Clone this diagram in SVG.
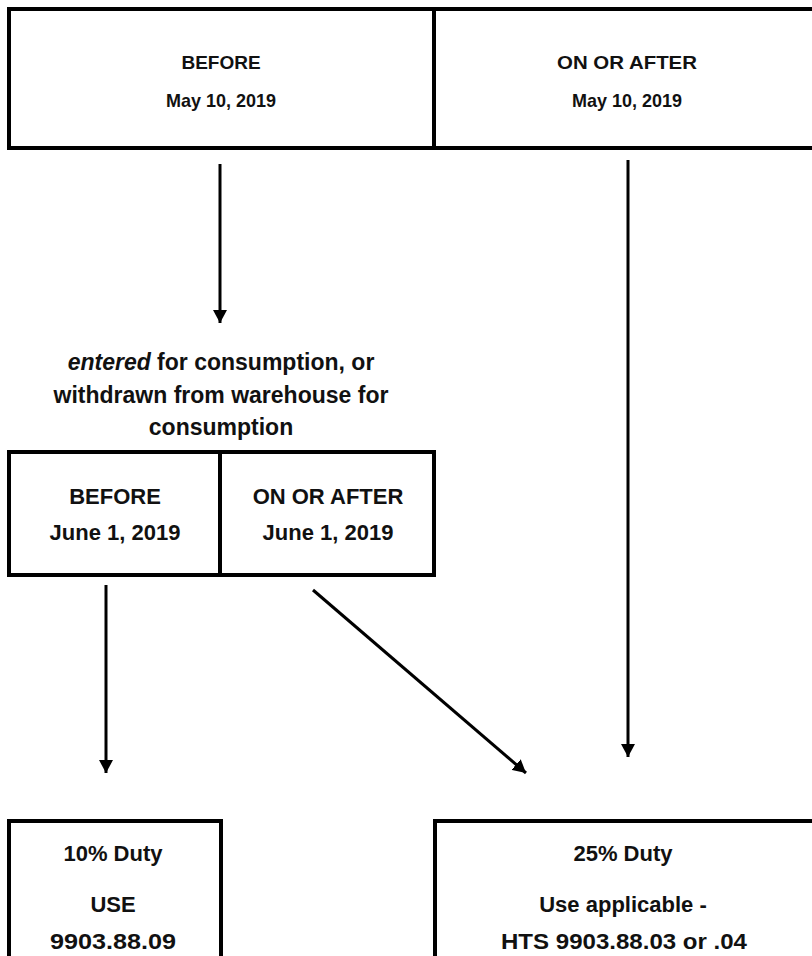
<svg xmlns="http://www.w3.org/2000/svg" width="812" height="956" viewBox="0 0 812 956">
<defs>
<style>
.box{fill:#fff;stroke:#000;stroke-width:4}
.t{font-family:"Liberation Sans",Arial,sans-serif;font-weight:bold;text-anchor:middle;fill:#111}
.s1{font-size:19px}
.s2{font-size:22px}
.s3{font-size:23px}
.s4{font-size:22px}
.c{stroke:#000;stroke-width:3;fill:none}
</style>
<marker id="ah" markerUnits="userSpaceOnUse" markerWidth="16" markerHeight="14" refX="13" refY="7" orient="auto">
<path d="M0,0 L13,7 L0,14 Z" fill="#000"/>
</marker>
</defs>
<rect width="812" height="956" fill="#fff"/>
<g id="top-before">
<rect class="box" x="9" y="9" width="425" height="139"/>
<text class="t s1" x="221" y="69">BEFORE</text>
<text class="t s1" x="221" y="107" textLength="110" lengthAdjust="spacingAndGlyphs">May 10, 2019</text>
</g>
<g id="top-after">
<rect class="box" x="434" y="9" width="390" height="139"/>
<text class="t s1" x="627" y="69" textLength="140" lengthAdjust="spacingAndGlyphs">ON OR AFTER</text>
<text class="t s1" x="627" y="107" textLength="110" lengthAdjust="spacingAndGlyphs">May 10, 2019</text>
</g>
<g id="entered-label">
<text class="t s3" x="221" y="370"><tspan font-style="italic">entered</tspan>  for consumption, or</text>
<text class="t s3" x="221" y="403">withdrawn from warehouse for</text>
<text class="t s3" x="221" y="435">consumption</text>
</g>
<g id="mid-before">
<rect class="box" x="9" y="452" width="211" height="123"/>
<text class="t s2" x="115" y="504">BEFORE</text>
<text class="t s2" x="115" y="540">June 1, 2019</text>
</g>
<g id="mid-after">
<rect class="box" x="220" y="452" width="214" height="123"/>
<text class="t s2" x="328" y="504">ON OR AFTER</text>
<text class="t s2" x="328" y="540">June 1, 2019</text>
</g>
<g id="duty10">
<path class="box" d="M9,960 L9,821 L221,821 L221,960"/>
<text class="t s4" x="113" y="861">10% Duty</text>
<text class="t s4" x="113" y="912">USE</text>
<text class="t s4" x="113" y="949" textLength="126" lengthAdjust="spacingAndGlyphs">9903.88.09</text>
</g>
<g id="duty25">
<path class="box" d="M435,960 L435,821 L820,821"/>
<text class="t s4" x="623" y="861">25% Duty</text>
<text class="t s4" x="623" y="912">Use applicable -</text>
<text class="t s4" x="624" y="949" textLength="246" lengthAdjust="spacingAndGlyphs">HTS 9903.88.03 or .04</text>
</g>
<g id="connectors">
<line class="c" x1="220" y1="164" x2="220" y2="323" marker-end="url(#ah)"/>
<line class="c" x1="628" y1="160" x2="628" y2="757" marker-end="url(#ah)"/>
<line class="c" x1="106" y1="585" x2="106" y2="773" marker-end="url(#ah)"/>
<line class="c" x1="313" y1="590" x2="526" y2="773" marker-end="url(#ah)" stroke-width="3.5"/>
</g>
</svg>
